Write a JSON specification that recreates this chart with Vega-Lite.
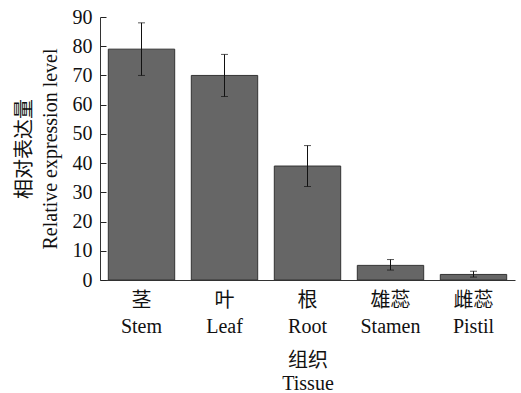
{
  "$schema": "https://vega.github.io/schema/vega-lite/v6.json",
  "autosize": "none",
  "width": 415,
  "height": 263,
  "padding": {"left": 100, "top": 17, "right": 6, "bottom": 113},
  "background": "white",
  "config": {
    "view": {"stroke": null},
    "font": "Liberation Serif, Noto Sans CJK SC",
    "axis": {
      "labelFont": "Liberation Serif, Noto Sans CJK SC",
      "titleFont": "Liberation Serif, Noto Sans CJK SC",
      "labelFontSize": 20,
      "titleFontSize": 20,
      "titleFontWeight": "normal",
      "labelColor": "#111111",
      "titleColor": "#111111",
      "domainColor": "#333333",
      "tickColor": "#222222",
      "tickWidth": 1,
      "grid": false
    }
  },
  "data": {
    "values": [
      {"tissue": "茎|Stem", "value": 79, "lo": 70, "hi": 88},
      {"tissue": "叶|Leaf", "value": 70, "lo": 62.8, "hi": 77.2},
      {"tissue": "根|Root", "value": 39, "lo": 32, "hi": 46},
      {"tissue": "雄蕊|Stamen", "value": 5, "lo": 3.4, "hi": 7},
      {"tissue": "雌蕊|Pistil", "value": 1.9, "lo": 1, "hi": 3}
    ]
  },
  "encoding": {
    "x": {
      "field": "tissue",
      "type": "nominal",
      "sort": null,
      "scale": {"paddingInner": 0.2, "paddingOuter": 0.1},
      "axis": {
        "title": ["组织", "Tissue"],
        "labelAngle": 0,
        "labelExpr": "split(datum.value, '|')",
        "labelLineHeight": 26,
        "titleLineHeight": 23,
        "ticks": false,
        "labelPadding": 10,
        "titlePadding": 14
      }
    }
  },
  "layer": [
    {
      "mark": {"type": "bar", "color": "#666666", "stroke": "#333333", "strokeWidth": 1},
      "encoding": {
        "y": {
          "field": "value",
          "type": "quantitative",
          "title": ["相对表达量", "Relative expression level"],
          "scale": {"domain": [0, 90], "nice": false},
          "axis": {
            "values": [0, 10, 20, 30, 40, 50, 60, 70, 80, 90],
            "labelOverlap": false,
            "tickSize": -6,
            "labelPadding": 14,
            "titlePadding": 12,
            "titleLineHeight": 26
          }
        }
      }
    },
    {
      "mark": {"type": "errorbar", "ticks": {"size": 7, "color": "#111111"}, "rule": {"color": "#111111", "strokeWidth": 1}},
      "encoding": {
        "y": {
          "field": "lo",
          "type": "quantitative",
          "title": ["相对表达量", "Relative expression level"],
          "axis": {
            "values": [0, 10, 20, 30, 40, 50, 60, 70, 80, 90],
            "labelOverlap": false,
            "tickSize": -6,
            "labelPadding": 14,
            "titlePadding": 12,
            "titleLineHeight": 26
          }
        },
        "y2": {"field": "hi"}
      }
    }
  ]
}
